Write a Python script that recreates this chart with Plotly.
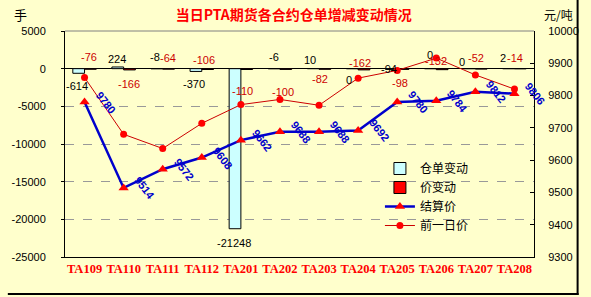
import plotly.graph_objects as go

# ---- data ----
categories = ["TA109", "TA110", "TA111", "TA112", "TA201", "TA202",
              "TA203", "TA204", "TA205", "TA206", "TA207", "TA208"]
warrant_change = [-614, 224, -8, -370, -21248, -6, 10, 0, -94, 0, 0, 2]      # 仓单变动
price_change = [-76, -166, -64, -106, -110, -100, -82, -162, -98, -132, -52, -14]  # 价变动
settle_price = [9780, 9514, 9572, 9608, 9662, 9688, 9688, 9692, 9780, 9784, 9812, 9806]  # 结算价
prev_price = [9856, 9680, 9636, 9714, 9772, 9788, 9770, 9854, 9878, 9916, 9864, 9820]   # 前一日价

left_tickvals = [5000, 0, -5000, -10000, -15000, -20000, -25000]
left_ticktext = ["5000", "0", "-5000", "-10000", "-15000", "-20000", "-25000"]

# ---- label placement styles (pixel offsets) ----
black_dy = [-13, 8, 12, -13, -14, 12, 9, -11, 0, 14, 7, 11]
black_dx = [-2, -1, -2, -2, -1, 0, -3, -3, -2, 0, -7, -5]
red_dy = [12, -14, 11, 9, -21, -23, -10, 7, -14, 9, 11, 11]
red_dx = [-2, -1, -1, -4, -4, -3, -5, -4, -3, -6, -5, -5]
BAR_OFF = 6

W, H = 591, 297
L, R, T, B = 59, 48, 31, 40
PW, PH = W - L - R, H - T - B

def px(xp):
    return (xp - L) / PW

def py(yp):
    return (H - B - yp) / PH

fig = go.Figure()
fig.add_bar(x=categories, y=warrant_change, name="仓单变动",
            marker=dict(color="#CCFFFF", line=dict(color="black", width=1)))
fig.add_bar(x=categories, y=price_change, name="价变动",
            marker=dict(color="#FF0000", line=dict(color="black", width=1)))
fig.add_scatter(x=categories, y=settle_price, name="结算价", yaxis="y2",
                mode="lines+markers",
                line=dict(color="#0000CC", width=2.5),
                marker=dict(symbol="triangle-up", color="#FF0000", size=9))
fig.add_scatter(x=categories, y=prev_price, name="前一日价", yaxis="y2",
                mode="lines+markers",
                line=dict(color="#CC0000", width=1),
                marker=dict(symbol="circle", color="#FF0000", size=7))

ann = []
lab_font = dict(family="Liberation Sans", size=11)
for i, c in enumerate(categories):
    ann.append(dict(x=c, y=warrant_change[i], xref="x", yref="y", text=str(warrant_change[i]),
                    showarrow=False, xshift=-BAR_OFF + black_dx[i], yshift=black_dy[i],
                    font=dict(lab_font, color="black")))
    ann.append(dict(x=c, y=price_change[i], xref="x", yref="y", text=str(price_change[i]),
                    showarrow=False, xshift=BAR_OFF + red_dx[i], yshift=red_dy[i],
                    font=dict(lab_font, color="#CC0000")))
    ann.append(dict(x=c, y=settle_price[i], xref="x", yref="y2", text="<b>%d</b>" % settle_price[i],
                    showarrow=False, xshift=21, yshift=0, textangle=52,
                    font=dict(family="Liberation Sans", size=11, color="#0000CC")))

ann.append(dict(x=px(13), y=py(15), xref="paper", yref="paper", text="手", showarrow=False,
                xanchor="center", yanchor="middle",
                font=dict(family="Noto Sans CJK SC", size=13, color="black")))
ann.append(dict(x=px(568), y=py(15), xref="paper", yref="paper", text="元/吨", showarrow=False,
                xanchor="center", yanchor="middle",
                font=dict(family="Noto Sans CJK SC", size=12, color="black")))

shapes = [
    dict(type="line", xref="paper", yref="paper", x0=0, x1=1, y0=1, y1=1,
         line=dict(color="#808080", width=1)),
    dict(type="line", xref="paper", yref="paper", x0=px(588), x1=px(588), y0=py(0), y1=py(295),
         line=dict(color="black", width=2)),
    dict(type="line", xref="paper", yref="paper", x0=px(0), x1=px(589), y0=py(294), y1=py(294),
         line=dict(color="black", width=2)),
]

n = len(categories)
fig.update_layout(
    width=W, height=H,
    margin=dict(l=L, r=R, t=T, b=B),
    paper_bgcolor="#FFFFCC", plot_bgcolor="#FFFFCC",
    barmode="group", bargap=0.4, bargroupgap=0,
    showlegend=True,
    title=dict(text="<b>当日PTA期货各合约仓单增减变动情况</b>", xref="container", x=0.497,
               xanchor="center", yref="container", y=1 - 15 / H, yanchor="middle",
               font=dict(family="Noto Sans CJK SC", size=14, color="#FF0000")),
    legend=dict(x=px(384), y=py(154), xanchor="left", yanchor="top",
                bgcolor="rgba(0,0,0,0)", borderwidth=0,
                font=dict(family="Noto Sans CJK SC", size=12, color="black"),
                traceorder="normal"),
    xaxis=dict(type="category", range=[-0.5, n - 0.5], showline=True, linecolor="black",
               linewidth=1, ticks="", showgrid=False, zeroline=False,
               tickfont=dict(family="Liberation Serif", size=12.5, color="#FF0000", weight="bold")),
    xaxis2=dict(overlaying="x", anchor="free", position=25000 / 30000, side="top",
                range=[-0.5, n - 0.5], tickvals=[i + 0.5 for i in range(n - 1)],
                ticks="outside", ticklen=5, tickcolor="black", showticklabels=False,
                showline=False, showgrid=False, zeroline=False),
    yaxis=dict(range=[-25000, 5000], tickvals=left_tickvals, ticktext=left_ticktext,
               ticks="outside", ticklen=3, tickcolor="black", showline=True, linecolor="black",
               linewidth=1, showgrid=True, gridcolor="#999999", griddash="dash", gridwidth=1,
               zeroline=True, zerolinecolor="black", zerolinewidth=1,
               ticklabelstandoff=13,
               tickfont=dict(family="Liberation Sans", size=11, color="black")),
    yaxis2=dict(overlaying="y", side="right", range=[9300, 10000], dtick=100,
                ticks="inside", ticklen=4, tickcolor="black", showline=True, linecolor="black",
                linewidth=1, showgrid=False, zeroline=False, ticklabelstandoff=11,
                tickformat="d",
                tickfont=dict(family="Liberation Sans", size=11, color="black")),
    annotations=ann,
    shapes=shapes,
)

fig.write_html("out.html")
